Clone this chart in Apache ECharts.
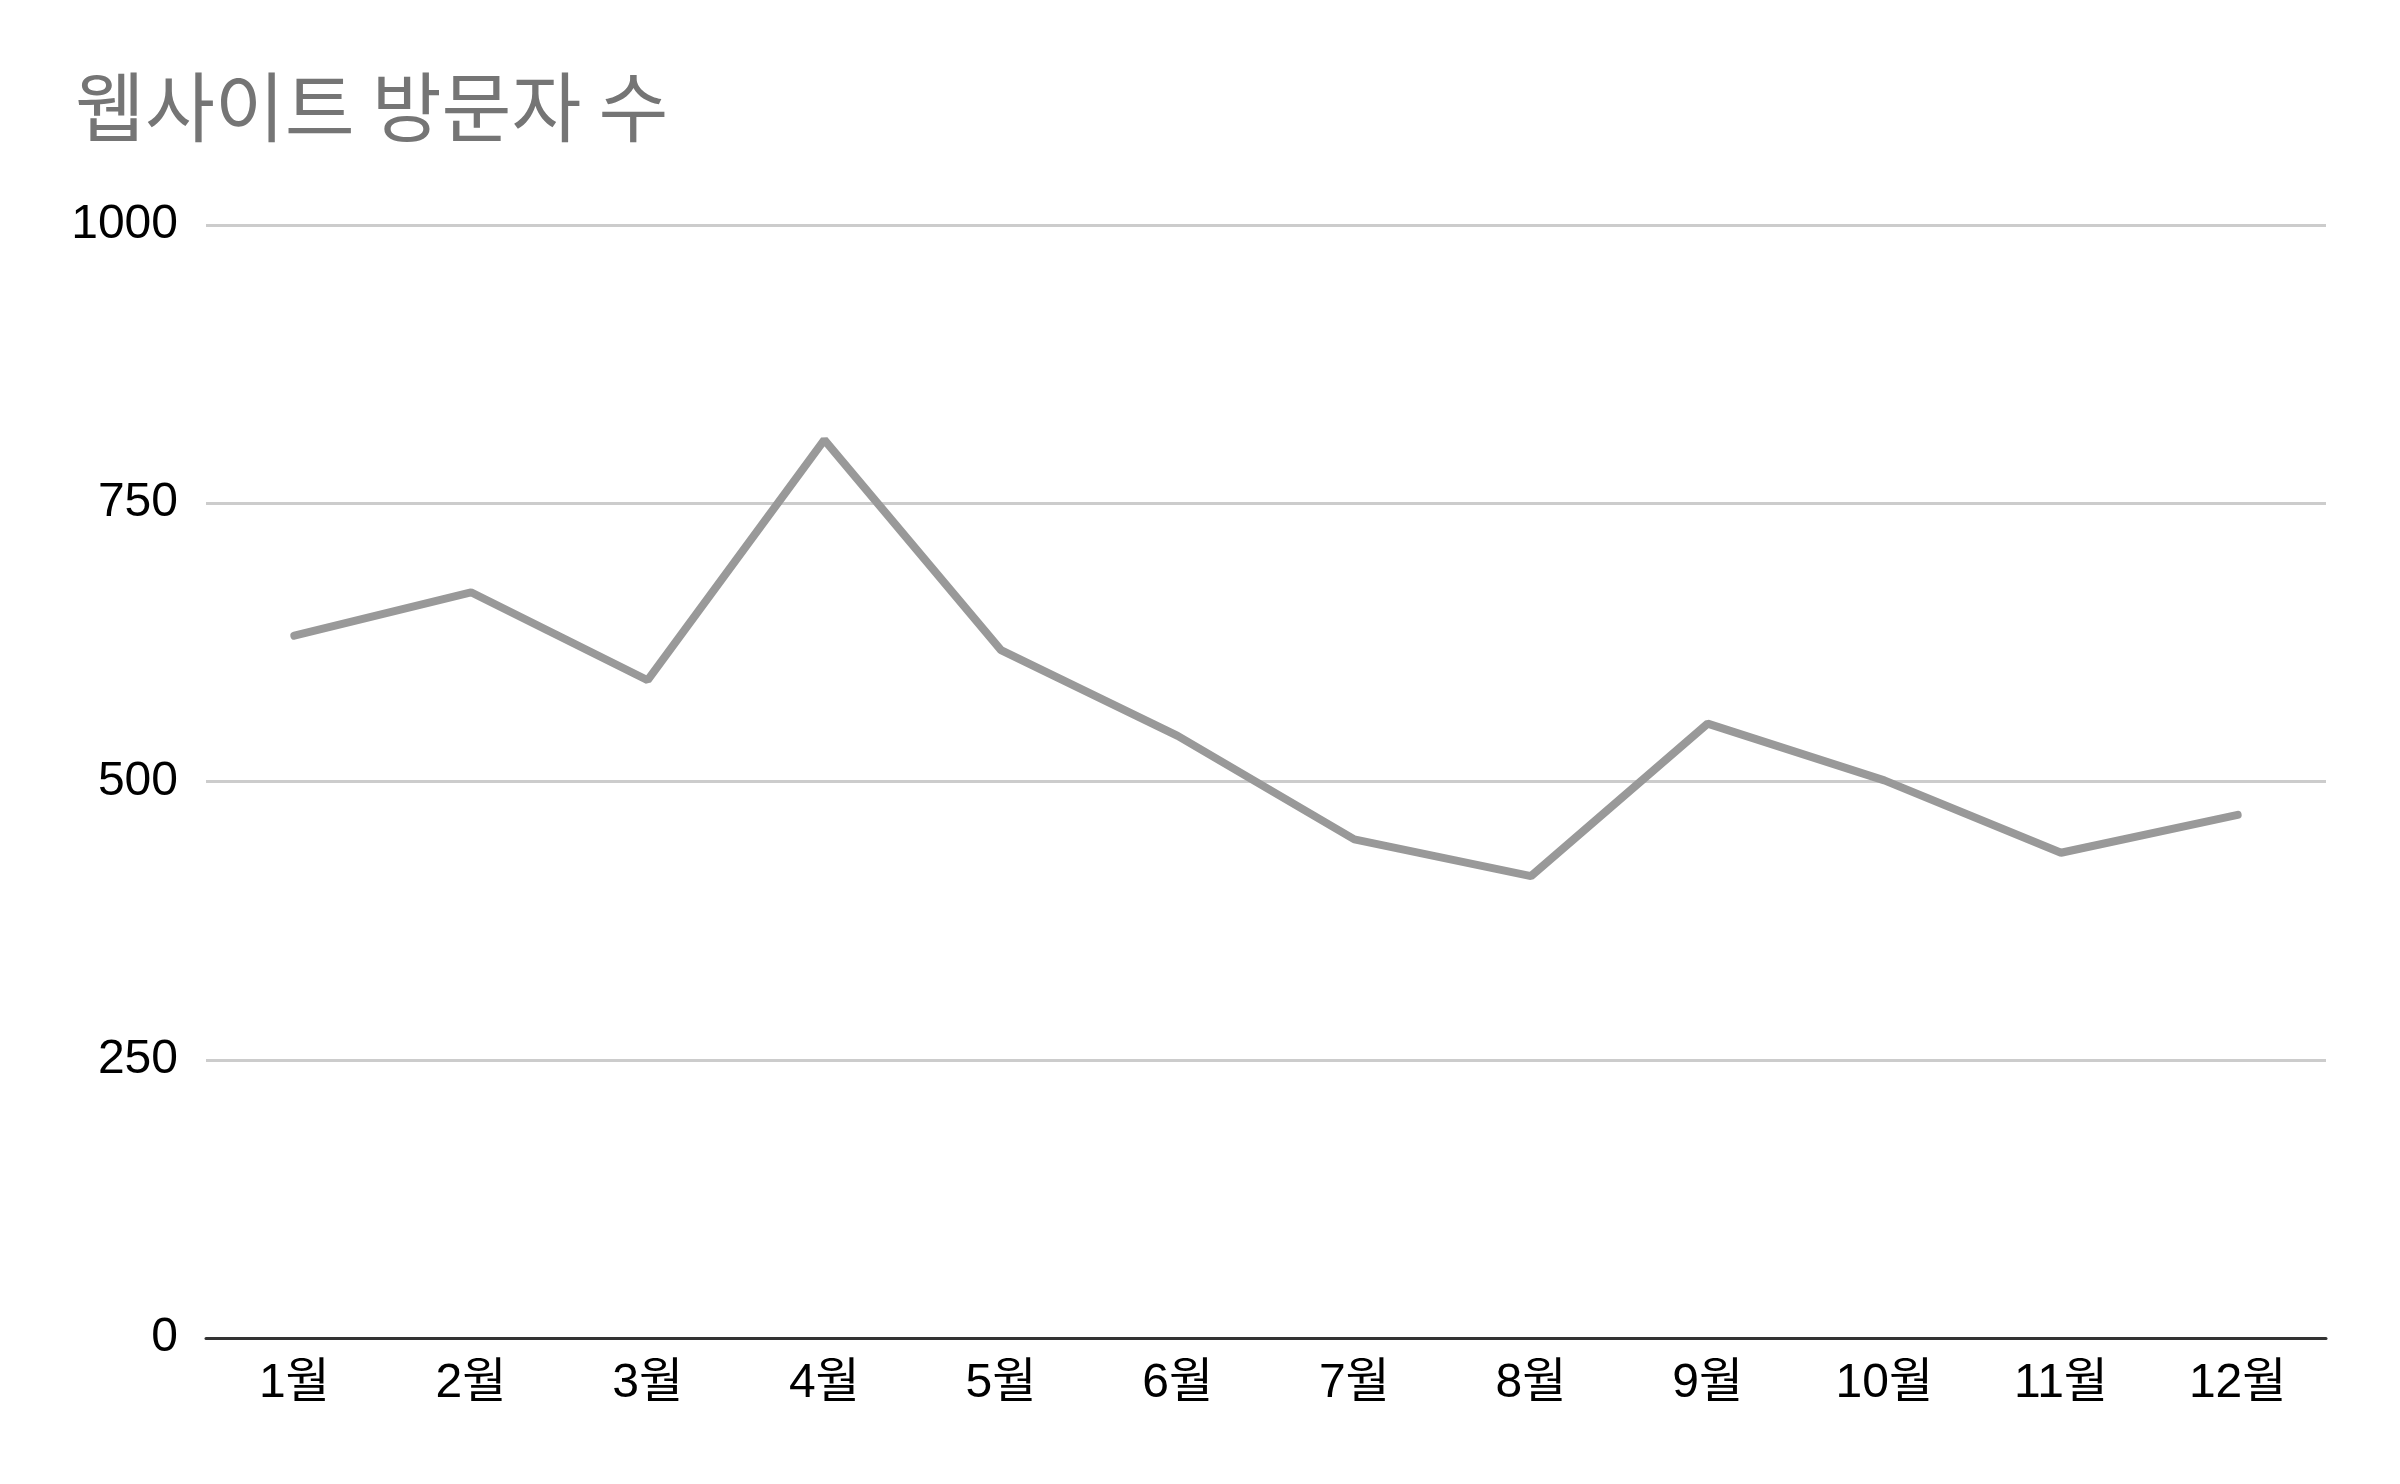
<!DOCTYPE html>
<html>
<head>
<meta charset="utf-8">
<script src="https://cdn.jsdelivr.net/npm/echarts@6/dist/echarts.min.js"></script>
<style>
  html, body { margin: 0; padding: 0; background: #fff; }
  #main { width: 2400px; height: 1484px; }
</style>
</head>
<body>
<div id="main"></div>
<script>
var months = ['1월', '2월', '3월', '4월', '5월', '6월', '7월', '8월', '9월', '10월', '11월', '12월'];
var visitors = [631, 670, 591, 807, 618, 541, 448, 415, 552, 501, 436, 470];
var yTicks = [0, 250, 500, 750, 1000];

var myChart = echarts.init(document.getElementById('main'));

var option = {
    backgroundColor: '#fff',
    animation: false,
    title: {
        text: '웹사이트 방문자 수',
        left: 70,
        top: 64,
        textStyle: {
            color: '#757575',
            fontSize: 76,
            fontWeight: 'normal',
            fontFamily: '"Noto Sans CJK KR", sans-serif'
        }
    },
    grid: {
        left: 206,
        right: 74,
        top: 225,
        bottom: 146
    },
    xAxis: {
        type: 'category',
        data: months,
        boundaryGap: true,
        axisTick: { show: false },
        axisLine: { lineStyle: { color: '#333', width: 3 } },
        axisLabel: {
            color: '#000',
            fontSize: 48,
            margin: 22,
            fontFamily: '"Liberation Sans", "Noto Sans CJK KR", sans-serif'
        }
    },
    yAxis: {
        type: 'value',
        min: yTicks[0],
        max: yTicks[yTicks.length - 1],
        interval: 250,
        axisLine: { show: false },
        axisTick: { show: false },
        axisLabel: {
            color: '#000',
            fontSize: 48,
            margin: 28,
            fontFamily: '"Liberation Sans", sans-serif',
            formatter: function (v) { return String(v); }
        },
        splitLine: { lineStyle: { color: '#cccccc', width: 3 } }
    },
    series: [{
        type: 'line',
        data: visitors,
        symbol: 'none',
        lineStyle: { color: '#999999', width: 8, cap: 'round' }
    }]
};

myChart.setOption(option);
</script>
</body>
</html>
